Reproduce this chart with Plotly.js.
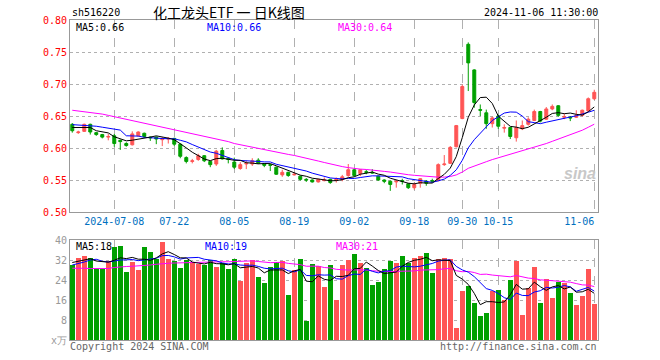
<!DOCTYPE html>
<html><head><meta charset="utf-8">
<script src="https://cdn.plot.ly/plotly-3.0.1.min.js"></script>
<style>html,body{margin:0;padding:0;background:#fff}#c{width:660px;height:360px}</style>
</head><body><div id="c"></div>
<script>
const dates = ["2024-06-27","2024-06-28",
"2024-07-01","2024-07-02","2024-07-03","2024-07-04","2024-07-05","2024-07-08","2024-07-09","2024-07-10","2024-07-11","2024-07-12",
"2024-07-15","2024-07-16","2024-07-17","2024-07-18","2024-07-19","2024-07-22","2024-07-23","2024-07-24","2024-07-25","2024-07-26",
"2024-07-29","2024-07-30","2024-07-31","2024-08-01","2024-08-02","2024-08-05","2024-08-06","2024-08-07","2024-08-08","2024-08-09",
"2024-08-12","2024-08-13","2024-08-14","2024-08-15","2024-08-16","2024-08-19","2024-08-20","2024-08-21","2024-08-22","2024-08-23",
"2024-08-26","2024-08-27","2024-08-28","2024-08-29","2024-08-30","2024-09-02","2024-09-03","2024-09-04","2024-09-05","2024-09-06",
"2024-09-09","2024-09-10","2024-09-11","2024-09-12","2024-09-13","2024-09-18","2024-09-19","2024-09-20","2024-09-23","2024-09-24",
"2024-09-25","2024-09-26","2024-09-27","2024-09-30","2024-10-08","2024-10-09","2024-10-10","2024-10-11","2024-10-14","2024-10-15",
"2024-10-16","2024-10-17","2024-10-18","2024-10-21","2024-10-22","2024-10-23","2024-10-24","2024-10-25","2024-10-28","2024-10-29",
"2024-10-30","2024-10-31","2024-11-01","2024-11-04","2024-11-05","2024-11-06"];

const openP = [.637,.624,.626,.637,.624,.621,.617,.619,.612,.607, .605,.619,.623,.617,.617,.613,.614,.615,.606,.585,
.579,.582,.588,.579,.575,.596,.584,.578,.568,.575, .575,.581,.575,.574,.570,.558,.562,.558,.556,.551,
.550,.547,.549,.551,.550,.551,.557,.566,.560,.563, .562,.556,.550,.548,.547,.549,.544,.538,.545,.548,
.549,.549,.574,.576,.602,.646,.762,.722,.660,.655, .638,.650,.631,.632,.616,.630,.637,.643,.657,.645,
.661,.666,.648,.648,.648,.651,.658,.677];
const highP = [.639,.627,.638,.638,.625,.622,.622,.622,.613,.609, .626,.626,.624,.618,.618,.617,.617,.616,.607,.587,
.583,.591,.589,.580,.597,.601,.585,.585,.578,.580, .584,.584,.576,.575,.571,.566,.563,.562,.557,.553,
.551,.552,.554,.552,.554,.558,.575,.567,.567,.566, .567,.557,.551,.549,.550,.552,.545,.546,.553,.550,
.552,.576,.589,.603,.636,.699,.765,.723,.668,.660, .649,.652,.637,.633,.643,.643,.648,.660,.658,.664,
.668,.667,.654,.650,.659,.660,.679,.691];
const lowP = [.624,.622,.625,.621,.619,.615,.612,.602,.597,.602, .604,.618,.616,.611,.606,.603,.607,.603,.584,.576,
.576,.580,.578,.570,.572,.582,.576,.567,.566,.567, .572,.575,.570,.564,.558,.555,.555,.557,.549,.547,
.546,.546,.548,.544,.546,.548,.555,.555,.556,.559, .560,.549,.545,.533,.538,.543,.536,.535,.538,.541,
.546,.548,.572,.575,.601,.645,.689,.663,.650,.630, .632,.630,.624,.614,.610,.628,.635,.642,.640,.644,
.659,.649,.645,.642,.647,.649,.657,.675];
const closeP = [.627,.625,.637,.625,.621,.617,.618,.607,.610,.604, .622,.625,.618,.616,.614,.614,.615,.606,.587,.579,
.580,.588,.580,.574,.595,.583,.582,.570,.574,.576, .580,.576,.573,.573,.559,.562,.557,.559,.551,.550,
.547,.551,.550,.546,.551,.555,.566,.557,.566,.562, .561,.550,.548,.543,.548,.548,.538,.543,.552,.545,
.548,.574,.575,.601,.635,.696,.733,.671,.659,.638, .647,.634,.632,.618,.632,.635,.645,.657,.642,.661,
.665,.651,.649,.647,.651,.659,.677,.687];
const volume = [30.0,32.7,33.6,32.7,28.9,28.9,31.6,37.3,37.7,27.3, 31.3,28.0,37.3,35.3,32.3,39.3,32.4,31.7,28.7,32.0,
31.1,30.3,30.0,32.0,29.3,30.7,28.4,32.3,23.7,30.7, 32.0,25.3,22.7,29.3,31.3,31.6,18.0,28.0,32.4,7.7,
30.4,29.6,21.3,30.1,16.0,30.0,32.0,34.4,30.8,28.7, 22.0,23.1,28.4,31.6,30.8,33.6,30.7,32.7,33.6,34.7,
26.9,32.3,32.7,32.3,4.9,19.6,21.6,14.9,9.6,10.9, 19.6,20.0,16.0,24.0,31.7,10.0,20.7,29.3,14.9,24.4,
16.9,23.3,22.7,18.7,14.0,17.7,28.4,14.5];

// moving-average values for days before a full window exists
const priceMa5Lead = [.632,.632,.633,.632];
const priceMa10Lead = [.6365,.636,.6355,.635,.634,.6325,.631,.630,.628];
const priceMa30Lead = [.659,.658,.657,.656,.655,.653,.651,.649,.647,.645,.643,.640,.638,.636,.634,.632,.630,.628,.626,.624,.622,.620,.618,.616,.614,.612,.610,.607,.605];
const volMa5Lead = [31.0,31.5,32.0,32.5];
const volMa10Lead = [30.0,30.5,31.2,32.0,32.3,31.5,31.2,31.6,32.0];
const volMa30Lead = [28.7,28.8,28.7,28.6,28.5,28.5,28.6,29.0,29.3,29.4,29.5,29.6,29.8,30.0,30.3,30.6,30.7,30.8,30.9,30.9,31.0,31.0,31.1,31.1,31.2,31.3,31.3,31.4,31.5];

const tickDates = ["2024-07-08","2024-07-22","2024-08-05","2024-08-19","2024-09-02","2024-09-18","2024-09-30","2024-10-15","2024-11-06"];
const tickLabels = ["2024-07-08","07-22","08-05","08-19","09-02","09-18","09-30","10-15","11-06\u00a0\u00a0\u00a0\u00a0\u00a0"];

const UP = '#ff5555', DOWN = '#00a000';
const idx = dates.map((d,i)=>i);
function ma(arr, n, lead){
  return arr.map((v,i)=>{
    if(i < n-1) return lead[i];
    let s=0; for(let k=i-n+1;k<=i;k++) s+=arr[k]; return s/n;
  });
}
const pm5 = ma(closeP,5,priceMa5Lead), pm10 = ma(closeP,10,priceMa10Lead), pm30 = ma(closeP,30,priceMa30Lead);
const vm5 = ma(volume,5,volMa5Lead), vm10 = ma(volume,10,volMa10Lead), vm30 = ma(volume,30,volMa30Lead);
const last = a => a[a.length-1];
const volColors = closeP.map((c,i)=> c>=openP[i] ? UP : DOWN);
const tickvals = tickDates.map(d=>dates.indexOf(d));

const MONO = 'DejaVu Sans Mono, monospace';
const traces = [
  {type:'candlestick', x:idx, open:openP, high:highP, low:lowP, close:closeP, xaxis:'x', yaxis:'y',
   increasing:{line:{color:UP,width:1}, fillcolor:UP}, decreasing:{line:{color:DOWN,width:1}, fillcolor:DOWN},
   whiskerwidth:0, hoverinfo:'skip'},
  {type:'scatter', mode:'lines', x:idx, y:pm30, line:{color:'#ff00ff',width:1}, xaxis:'x', yaxis:'y', hoverinfo:'skip'},
  {type:'scatter', mode:'lines', x:idx, y:pm10, line:{color:'#0000ff',width:1}, xaxis:'x', yaxis:'y', hoverinfo:'skip'},
  {type:'scatter', mode:'lines', x:idx, y:pm5, line:{color:'#000000',width:1}, xaxis:'x', yaxis:'y', hoverinfo:'skip'},
  {type:'bar', x:idx, y:volume, marker:{color:volColors, line:{width:0}}, width:0.83, xaxis:'x2', yaxis:'y2', hoverinfo:'skip'},
  {type:'scatter', mode:'lines', x:idx, y:vm30, line:{color:'#ff00ff',width:1}, xaxis:'x2', yaxis:'y2', hoverinfo:'skip'},
  {type:'scatter', mode:'lines', x:idx, y:vm10, line:{color:'#0000ff',width:1}, xaxis:'x2', yaxis:'y2', hoverinfo:'skip'},
  {type:'scatter', mode:'lines', x:idx, y:vm5, line:{color:'#000000',width:1}, xaxis:'x2', yaxis:'y2', hoverinfo:'skip'}
];

const xr = [-0.38, 87.62];
const gridC = '#b0b0b0', frameC = '#999999';
const ann = (text,x,y,color,xanchor,size,family,extra)=>Object.assign({text, x, y, xref:'paper', yref:'paper', xanchor, yanchor:'middle', showarrow:false, font:{family:family||MONO, size:size||10, color}}, extra||{});
const layout = {
  width:660, height:360, margin:{l:70,r:62,t:20,b:20},
  paper_bgcolor:'#fff', plot_bgcolor:'#fff', showlegend:false, bargap:0,
  xaxis:{anchor:'y', domain:[0,1], range:xr, tickmode:'array', tickvals, ticktext:tickLabels,
    tickfont:{family:MONO,size:10,color:'#0070c0'}, ticks:'', showgrid:true, gridcolor:gridC, griddash:'dash', gridwidth:1,
    showline:true, linecolor:frameC, linewidth:1, mirror:true, zeroline:false, rangeslider:{visible:false}, fixedrange:true},
  xaxis2:{anchor:'y2', domain:[0,1], range:xr, tickmode:'array', tickvals, showticklabels:false, ticks:'',
    showgrid:true, gridcolor:gridC, griddash:'dash', gridwidth:1, showline:true, linecolor:frameC, linewidth:1, mirror:true, zeroline:false, fixedrange:true},
  yaxis:{domain:[0.4,1], range:[0.5,0.8], tick0:0.5, dtick:0.05, tickformat:'.2f', ticks:'',
    tickfont:{family:MONO,size:10,color:'#ff0000'}, showgrid:true, gridcolor:gridC, griddash:'dot', gridwidth:1,
    showline:true, linecolor:frameC, linewidth:1, mirror:true, zeroline:false, fixedrange:true},
  yaxis2:{domain:[0,0.3125], range:[0,40], tickmode:'array', tickvals:[0,8,16,24,32,40], ticktext:['x万','8','16','24','32','40'], ticks:'',
    tickfont:{family:MONO,size:10,color:'#999999'}, showgrid:true, gridcolor:gridC, griddash:'dot', gridwidth:1,
    showline:true, linecolor:frameC, linewidth:1, mirror:true, zeroline:false, fixedrange:true},
  annotations:[
    ann('sh516220', 0, 1.025, '#000', 'left'),
    ann('化工龙头ETF 一 日K线图', 0.153, 1.025, '#000', 'left', 14, 'Noto Sans CJK SC'),
    ann('2024-11-06 11:30:00', 1.004, 1.025, '#000', 'right'),
    ann('MA5:'+last(pm5).toFixed(2), 0.008, 0.978, '#000000', 'left'),
    ann('MA10:'+last(pm10).toFixed(2), 0.256, 0.978, '#0000ff', 'left'),
    ann('MA30:'+last(pm30).toFixed(2), 0.504, 0.978, '#ff00ff', 'left'),
    ann('MA5:'+Math.floor(last(vm5)), 0.008, 0.292, '#000000', 'left'),
    ann('MA10:'+Math.floor(last(vm10)), 0.252, 0.292, '#0000ff', 'left'),
    ann('MA30:'+Math.floor(last(vm30)), 0.5, 0.292, '#ff00ff', 'left'),
    ann('Copyright 2024 SINA.COM', -0.004, -0.019, '#666666', 'left'),
    ann('http://finance.sina.com.cn', 1.002, -0.019, '#666666', 'right'),
    ann('<b><i>sina</i></b>', 0.965, 0.52, '#c8c8c8', 'center', 16, 'Liberation Sans')
  ]
};
Plotly.newPlot('c', traces, layout, {displayModeBar:false, staticPlot:true});
</script></body></html>
